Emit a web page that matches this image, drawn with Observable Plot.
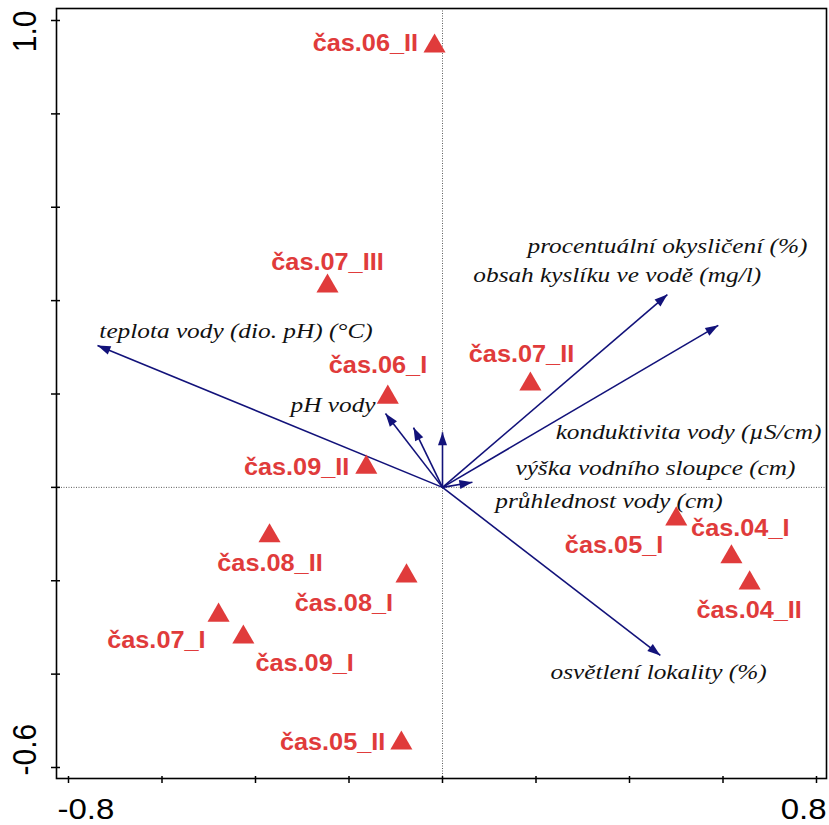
<!DOCTYPE html>
<html><head><meta charset="utf-8">
<script src="https://cdn.jsdelivr.net/npm/d3@7"></script>
<script src="https://cdn.jsdelivr.net/npm/@observablehq/plot@0.6"></script>
<style>body{margin:0;background:#fff}</style>
</head><body><div id="chart"></div>
<script>
// Samples (triangles)
const sampleNames = ["čas.04_I","čas.04_II","čas.05_I","čas.05_II","čas.06_I","čas.06_II","čas.07_I","čas.07_II","čas.07_III","čas.08_I","čas.08_II","čas.09_I","čas.09_II"];
const sampleX = [0.618, 0.657, 0.500, -0.088, -0.117, -0.017, -0.479, 0.188, -0.246, -0.077, -0.370, -0.426, -0.163];
const sampleY = [-0.149, -0.205, -0.068, -0.548, 0.193, 0.945, -0.274, 0.221, 0.431, -0.190, -0.104, -0.321, 0.043];
const sampleLabelX = [0.637, 0.656, 0.367, -0.235, -0.138, -0.165, -0.612, 0.169, -0.246, -0.211, -0.369, -0.295, -0.312];
const sampleLabelY = [-0.088, -0.263, -0.124, -0.546, 0.261, 0.951, -0.328, 0.285, 0.482, -0.248, -0.163, -0.377, 0.043];

// Environmental variables (arrows)
const envNames = ["teplota vody (dio. pH) (°C)","pH vody","procentuální okysličení (%)","obsah kyslíku ve vodě (mg/l)","konduktivita vody (µS/cm)","výška vodního sloupce (cm)","průhlednost vody (cm)","osvětlení lokality (%)"];
const envX = [-0.738, -0.122, 0.481, 0.590, 0.000, 0.064, -0.062, 0.466];
const envY = [0.304, 0.158, 0.413, 0.347, 0.118, 0.011, 0.128, -0.360];
const envLabelX = [-0.734, -0.325, 0.182, 0.066, 0.242, 0.156, 0.113, 0.231];
const envLabelY = [0.336, 0.176, 0.518, 0.454, 0.118, 0.041, -0.030, -0.396];

// Axes
const xTicks = [-0.8, -0.6, -0.4, -0.2, 0, 0.2, 0.4, 0.6, 0.8];
const yTicks = [-0.6, -0.4, -0.2, 0, 0.2, 0.4, 0.6, 0.8, 1.0];
const xTickLabelValues = [-0.8, 0.8];
const xTickLabels = ["-0.8", "0.8"];
const yTickLabelValues = [1.0, -0.6];
const yTickLabels = ["1.0", "-0.6"];

const samples = sampleNames.map((name, i) => ({name, x: sampleX[i], y: sampleY[i], lx: sampleLabelX[i], ly: sampleLabelY[i]}));
const env = envNames.map((name, i) => ({name, x: envX[i], y: envY[i], lx: envLabelX[i], ly: envLabelY[i]}));

const RED = "#e03b3b";
const NAVY = "#12127a";
const SANS = "'Liberation Sans', Arial, sans-serif";
const SERIF = "'Liberation Serif', 'Times New Roman', serif";

const arrowHead = {draw(ctx) { ctx.moveTo(0, 0); ctx.lineTo(-4.5, 13); ctx.lineTo(4.5, 13); ctx.closePath(); }};

const plot = Plot.plot({
  width: 829, height: 825,
  marginLeft: 56, marginRight: 3, marginTop: 8, marginBottom: 47,
  x: {domain: [-0.8 - 12 / 467.5, 0.8 + 10 / 467.5]},
  y: {domain: [-0.6 - 11 / 466.875, 1.0 + 12 / 466.875]},
  style: {background: "white", overflow: "visible"},
  marks: [
    Plot.ruleX([0], {stroke: "#333", strokeDasharray: "1,1.5", strokeWidth: 0.8}),
    Plot.ruleY([0], {stroke: "#333", strokeDasharray: "1,1.5", strokeWidth: 0.8}),
    Plot.link(env, {x1: () => 0, y1: () => 0, x2: "x", y2: "y", stroke: NAVY, strokeWidth: 1.6}),
    Plot.dot(env, {x: "x", y: "y", symbol: arrowHead, r: 5, fill: NAVY, stroke: "none",
      rotate: d => Math.atan2(d.x, d.y) * 180 / Math.PI}),
    Plot.dot(samples, {x: "x", y: "y", symbol: "triangle", r: 8.2, fill: RED, stroke: "none"}),
    Plot.text(samples, {x: "lx", y: "ly", text: "name", fill: RED, fontFamily: SANS, fontWeight: "bold",
      fontSize: 23, textAnchor: "middle", lineAnchor: "middle"}),
    Plot.text(env, {x: "lx", y: "ly", text: "name", fill: "#111", fontFamily: SERIF, fontStyle: "italic",
      fontSize: 22, textAnchor: "start", lineAnchor: "middle"}),
    Plot.frame({stroke: "black", strokeWidth: 1.6}),
    Plot.axisY(yTicks, {tickSize: 9, dx: 4, tickFormat: () => "", label: null, strokeWidth: 1.5}),
    Plot.axisX(xTicks, {tickSize: 7, dy: -2, tickFormat: () => "", label: null, strokeWidth: 1.5}),
    Plot.text([0], {x: () => xTickLabelValues[0], text: () => xTickLabels[0], frameAnchor: "bottom", dy: 31, dx: -11,
      textAnchor: "start", lineAnchor: "middle", fontFamily: SANS, fontSize: 30, fill: "black"}),
    Plot.text([0], {x: () => xTickLabelValues[1], text: () => xTickLabels[1], frameAnchor: "bottom", dy: 31, dx: 10,
      textAnchor: "end", lineAnchor: "middle", fontFamily: SANS, fontSize: 30, fill: "black"}),
    Plot.text([0], {y: () => yTickLabelValues[0], text: () => yTickLabels[0], frameAnchor: "left", dx: -31, dy: -10, rotate: -90,
      textAnchor: "end", lineAnchor: "middle", fontFamily: SANS, fontSize: 30, fill: "black"}),
    Plot.text([0], {y: () => yTickLabelValues[1], text: () => yTickLabels[1], frameAnchor: "left", dx: -31, dy: 8, rotate: -90,
      textAnchor: "start", lineAnchor: "middle", fontFamily: SANS, fontSize: 30, fill: "black"})
  ]
});

// horizontal stretch of the lettering, as in the reference image
plot.querySelectorAll("g").forEach(g => {
  const fw = g.getAttribute("font-weight"), fst = g.getAttribute("font-style"), size = parseFloat(g.getAttribute("font-size"));
  let s;
  if (fw === "bold") s = 1.1;
  else if (fst === "italic") s = 1.15;
  else if (size === 30) s = 1.1;
  else return;
  g.querySelectorAll(":scope > text").forEach(t => {
    const tr = t.getAttribute("transform") || "";
    t.setAttribute("transform", tr + (/rotate/.test(tr) ? ` scale(1,${s})` : ` scale(${s},1)`));
  });
});
document.getElementById("chart").appendChild(plot);
</script>
</body></html>
